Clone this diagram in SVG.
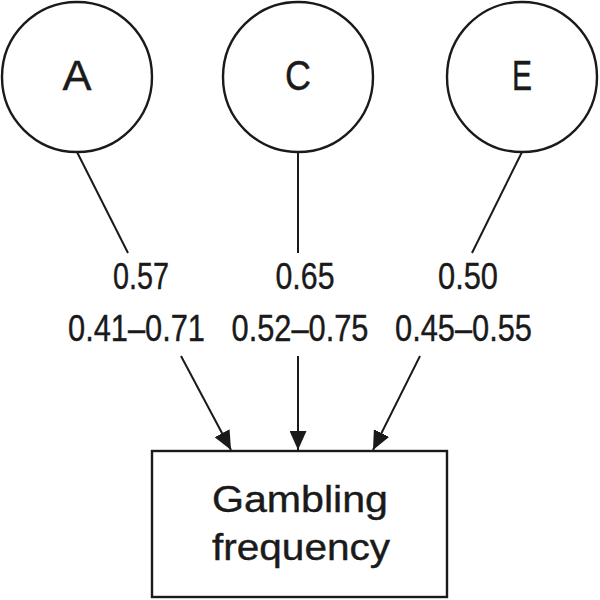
<svg xmlns="http://www.w3.org/2000/svg" width="600" height="600" viewBox="0 0 600 600">
<style>
.node{fill:#fff;stroke:#1a1a1a;stroke-width:2.4}
.lat{font-family:"Liberation Sans",Arial,sans-serif;font-size:42px;fill:#1a1a1a;stroke:#1a1a1a;stroke-width:0.4;text-anchor:middle}
.lbl{font-family:"Liberation Sans",Arial,sans-serif;font-size:36px;fill:#1a1a1a;stroke:#1a1a1a;stroke-width:0.4;text-anchor:middle}
.edge{stroke:#1a1a1a;stroke-width:2;fill:none}
</style>
<defs>
<marker id="arr" markerUnits="userSpaceOnUse" markerWidth="20" markerHeight="17" refX="19" refY="8.5" orient="auto">
<path d="M0,0 L19,8.5 L0,17 Z" fill="#1a1a1a"/>
</marker>
</defs>
<rect width="600" height="600" fill="#fff"/>
<g id="node-A">
<circle class="node" cx="77" cy="77" r="75"/>
<text class="lat" x="77" y="90" textLength="29" lengthAdjust="spacingAndGlyphs">A</text>
</g>
<g id="node-C">
<circle class="node" cx="298" cy="77" r="75"/>
<text class="lat" x="298" y="90" textLength="26" lengthAdjust="spacingAndGlyphs">C</text>
</g>
<g id="node-E">
<circle class="node" cx="522" cy="77" r="75"/>
<text class="lat" x="522" y="90" textLength="20" lengthAdjust="spacingAndGlyphs">E</text>
</g>
<g id="node-GF">
<rect class="node" x="152" y="451" width="295" height="146" stroke-width="2"/>
<text class="lbl" x="300" y="512" textLength="176" lengthAdjust="spacingAndGlyphs">Gambling</text>
<text class="lbl" x="301" y="560" textLength="178" lengthAdjust="spacingAndGlyphs">frequency</text>
</g>
<g id="connectors">
<line class="edge" x1="77" y1="152" x2="128" y2="253"/>
<line class="edge" x1="298" y1="152" x2="298" y2="253"/>
<line class="edge" x1="522" y1="152" x2="472" y2="253"/>
<line class="edge" x1="181" y1="356" x2="231" y2="450" marker-end="url(#arr)"/>
<line class="edge" x1="298" y1="356" x2="298" y2="450" marker-end="url(#arr)"/>
<line class="edge" x1="420" y1="356" x2="373" y2="450" marker-end="url(#arr)"/>
<text class="lbl" x="141" y="289" textLength="56" lengthAdjust="spacingAndGlyphs">0.57</text>
<text class="lbl" x="136.5" y="341" textLength="137" lengthAdjust="spacingAndGlyphs">0.41–0.71</text>
<text class="lbl" x="305" y="289" textLength="59" lengthAdjust="spacingAndGlyphs">0.65</text>
<text class="lbl" x="300" y="341" textLength="137" lengthAdjust="spacingAndGlyphs">0.52–0.75</text>
<text class="lbl" x="468" y="289" textLength="60" lengthAdjust="spacingAndGlyphs">0.50</text>
<text class="lbl" x="463.5" y="341" textLength="137" lengthAdjust="spacingAndGlyphs">0.45–0.55</text>
</g>
</svg>
